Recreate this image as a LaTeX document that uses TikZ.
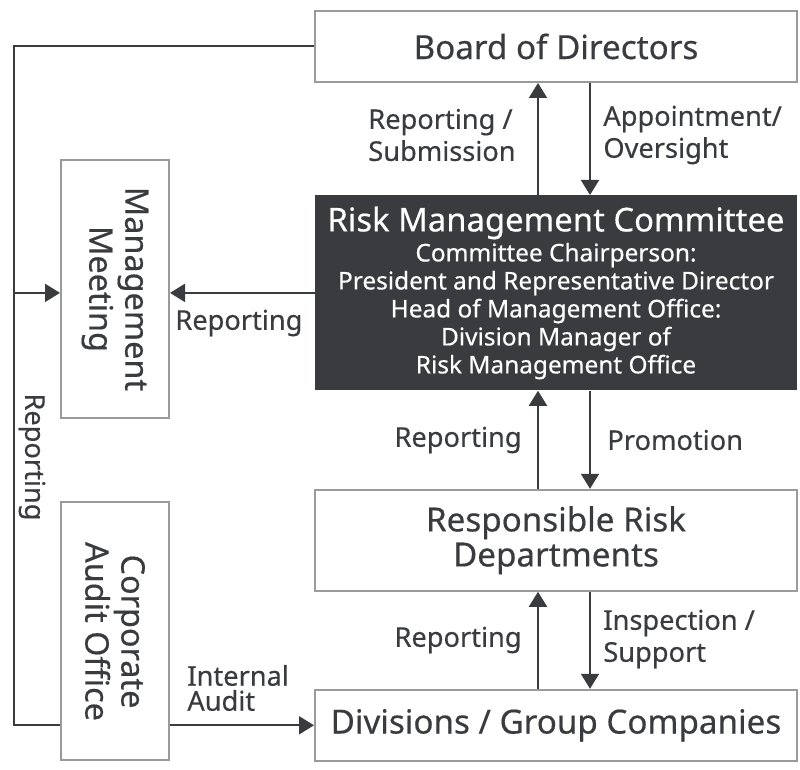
\documentclass[tikz,border=0pt]{standalone}
\usepackage{fontspec}
\setmainfont{Noto Sans}[FakeBold=0.4]
\usetikzlibrary{arrows.meta,positioning}

\definecolor{ink}{HTML}{3A3B3E}
\definecolor{frame}{HTML}{9A9A9A}

\begin{document}
\begin{tikzpicture}[
  x=0.5pt, y=-0.5pt,
  >={Triangle[width=9pt,length=7.5pt]},
  box/.style={rectangle, draw=frame, line width=1pt, fill=white, text=ink, align=center,
    minimum width=241pt, minimum height=35.5pt, inner sep=0pt,
    font=\fontsize{16.6}{17.5}\selectfont},
  darkbox/.style={rectangle, fill=ink, text=white, align=center,
    minimum width=241pt, minimum height=97.5pt, inner sep=0pt,
    font=\fontsize{12.2}{14}\selectfont},
  sidebox/.style={rectangle, draw=frame, line width=1pt, text=ink, align=center,
    minimum width=129pt, minimum height=54pt, inner sep=0pt, rotate=-90,
    font=\fontsize{16.2}{18}\selectfont},
  lbl/.style={text=ink, inner sep=0pt, align=left, font=\fontsize{13.6}{16}\selectfont},
  line/.style={draw=ink, line width=1pt},
  arr/.style={line, ->}
]
\useasboundingbox (0,0) rectangle (800,770);

\node[box] (board) at (556,46.5) {Board of Directors};
\node[darkbox, below=56pt of board] (rmc) {{\fontsize{16.4}{19}\selectfont Risk Management Committee}\\[1pt]
  Committee Chairperson:\\
  President and Representative Director\\
  Head of Management Office:\\
  Division Manager of\\
  Risk Management Office};
\node[box, minimum height=50.5pt, below=49pt of rmc] (resp) {Responsible Risk\\Departments};
\node[box, below=48.5pt of resp] (div) {Divisions / Group Companies};

% rotated boxes: north is the right side, south the left side
\node[sidebox] (mm) at (115,289) {Management\\Meeting};
\node[sidebox] (audit) at (115,631.5) {Corporate\\Audit Office};

\coordinate (lft) at (14,0);

% board <-> committee
\draw[arr] ([xshift=-9pt]rmc.north) -- ([xshift=-9pt]board.south);
\draw[arr] ([xshift=17pt]board.south) -- ([xshift=17pt]rmc.north);
\node[lbl, anchor=east] (l1) at (516,135) {Reporting /\\Submission};
\node[lbl, anchor=west] (l2) at (603,135) {Appointment/\\Oversight};

% committee <-> departments
\draw[arr] ([xshift=-9pt]resp.north) -- ([xshift=-9pt]rmc.south);
\draw[arr] ([xshift=17pt]rmc.south) -- ([xshift=17pt]resp.north);
\node[lbl, anchor=east] (l3) at (522,440) {Reporting};
\node[lbl, anchor=west] (l4) at (607,440) {Promotion};

% departments <-> divisions
\draw[arr] ([xshift=-9pt]div.north) -- ([xshift=-9pt]resp.south);
\draw[arr] ([xshift=17pt]resp.south) -- ([xshift=17pt]div.north);
\node[lbl, anchor=east] (l5) at (522,640) {Reporting};
\node[lbl, anchor=west] (l6) at (603,639) {Inspection /\\Support};

% committee -> management meeting
\draw[arr] (rmc.west) -- (mm.north |- rmc.west);
\node[lbl, anchor=west] (l7) at (175,323) {Reporting};

% audit
\draw[arr] (audit.north |- div.west) -- (div.west);
\node[lbl, anchor=west, font=\fontsize{13.6}{12.5}\selectfont] (l8) at (187,688) {Internal\\Audit};

% reporting loop on the left
\draw[line] (board.west) -| (lft |- div.west) -- (audit.south |- div.west);
\draw[arr] (lft |- rmc.west) -- (mm.south |- rmc.west);
\node[lbl, rotate=-90] (l9) at (32,457) {Reporting};

\end{tikzpicture}
\end{document}
